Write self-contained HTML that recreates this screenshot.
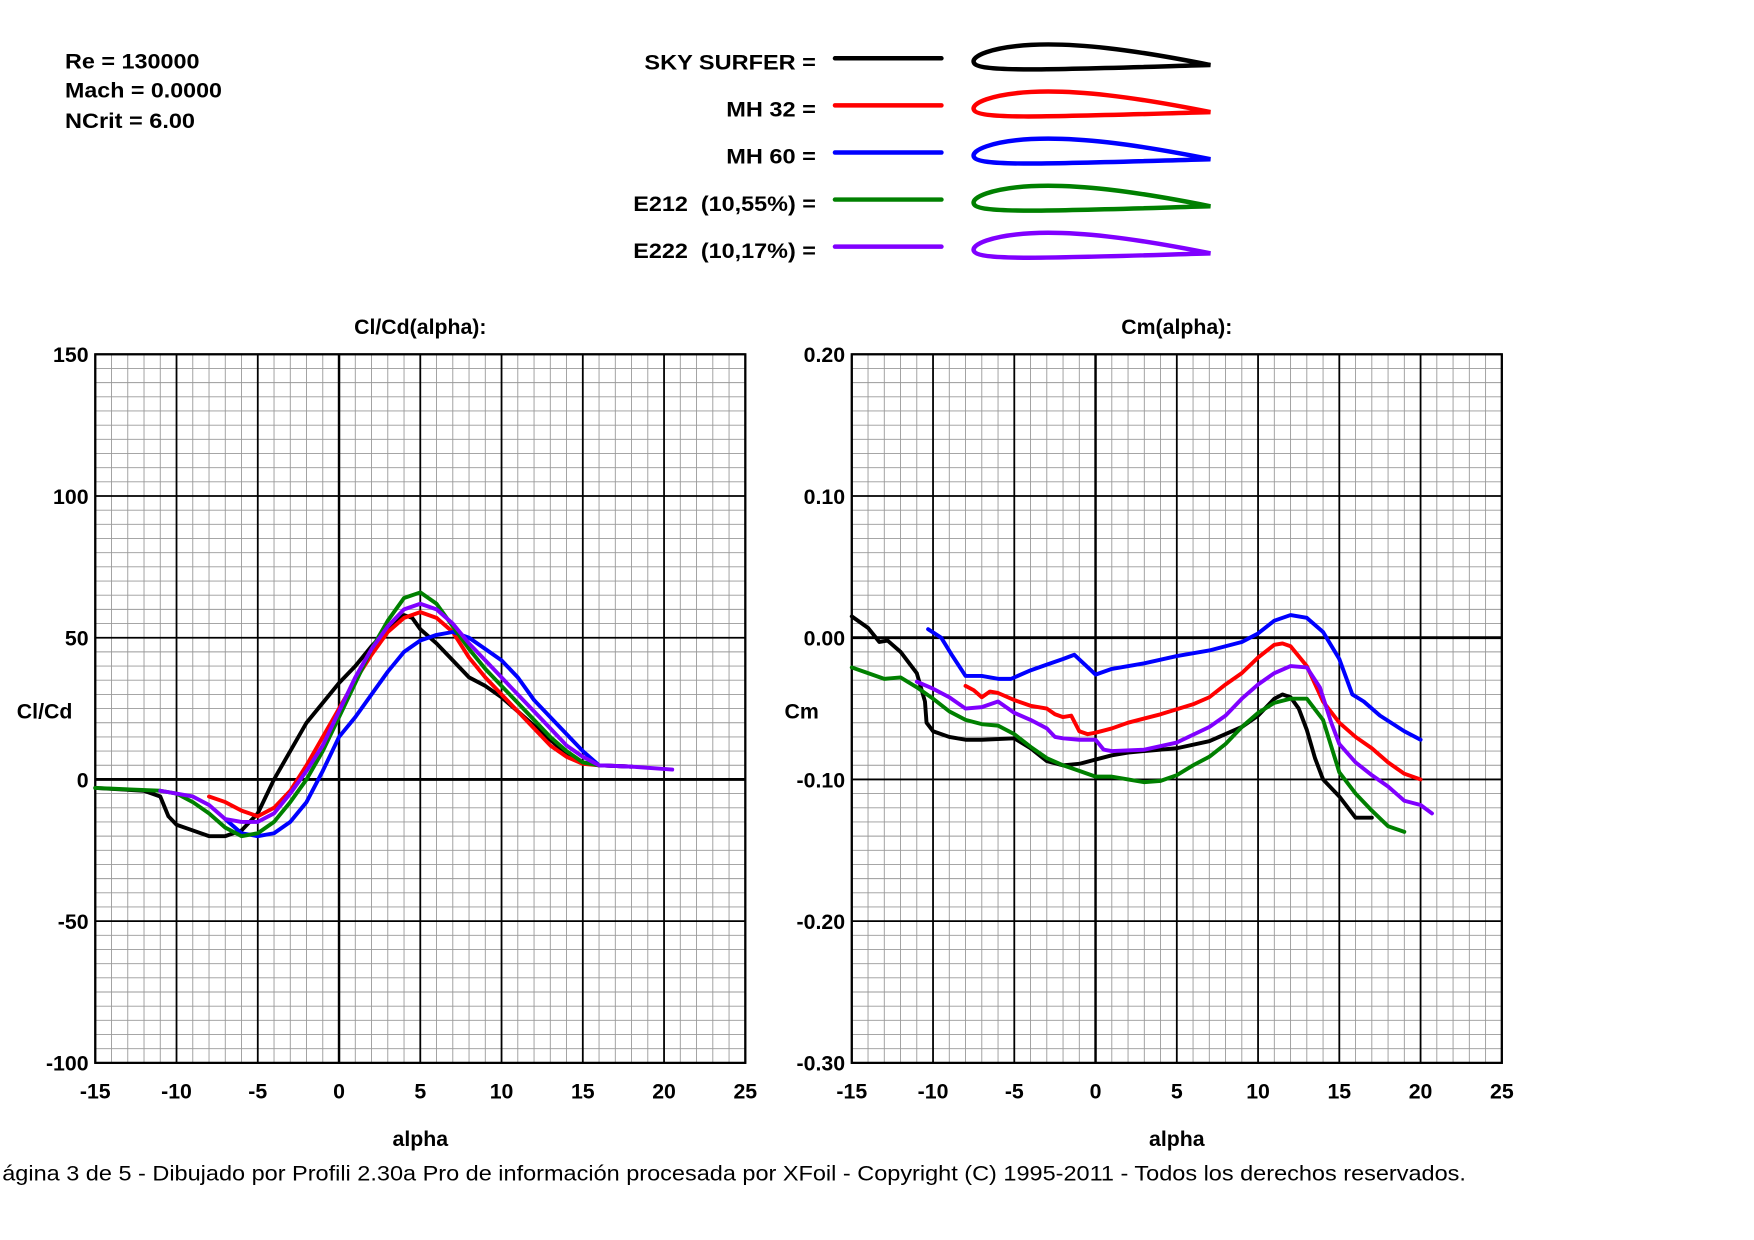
<!DOCTYPE html>
<html><head><meta charset="utf-8"><style>html,body{margin:0;padding:0;background:#fff}svg{display:block}text{font-family:"Liberation Sans",Arial,sans-serif}</style></head>
<body>
<svg id="s" width="1754" height="1240" viewBox="0 0 1565 1106" preserveAspectRatio="none" xmlns="http://www.w3.org/2000/svg">
<rect width="1565" height="1106" fill="#fff"/>
<g font-weight="bold" font-size="19" fill="#000">
<text x="58" y="61" textLength="120" lengthAdjust="spacingAndGlyphs">Re = 130000</text>
<text x="58" y="87" textLength="140" lengthAdjust="spacingAndGlyphs">Mach = 0.0000</text>
<text x="58" y="114" textLength="116" lengthAdjust="spacingAndGlyphs">NCrit = 6.00</text>
<text x="575" y="62" textLength="153" lengthAdjust="spacingAndGlyphs">SKY SURFER =</text>
<text x="648" y="104" textLength="80" lengthAdjust="spacingAndGlyphs">MH 32 =</text>
<text x="648" y="146" textLength="80" lengthAdjust="spacingAndGlyphs">MH 60 =</text>
<text x="565" y="188" textLength="163" lengthAdjust="spacingAndGlyphs" xml:space="preserve">E212  (10,55%) =</text>
<text x="565" y="230" textLength="163" lengthAdjust="spacingAndGlyphs" xml:space="preserve">E222  (10,17%) =</text>
<text x="375" y="298" text-anchor="middle">Cl/Cd(alpha):</text>
<text x="1050" y="298" text-anchor="middle">Cm(alpha):</text>
<text x="15" y="641">Cl/Cd</text>
<text x="700" y="641">Cm</text>
<text x="375" y="1022" text-anchor="middle">alpha</text>
<text x="1050" y="1022" text-anchor="middle">alpha</text>
</g>
<text x="2" y="1053" font-size="19" fill="#000" textLength="1306" lengthAdjust="spacingAndGlyphs">ágina 3 de 5 - Dibujado por Profili 2.30a Pro de información procesada por XFoil - Copyright (C) 1995-2011 - Todos los derechos reservados.</text>
<g id="g"></g>
</svg>
<script>
var NS="http://www.w3.org/2000/svg",G=document.getElementById("g");
function el(t,a,txt){var e=document.createElementNS(NS,t);for(var k in a)e.setAttribute(k,a[k]);if(txt!=null)e.textContent=txt;G.appendChild(e);return e;}
var cols=["#000","#f00","#00f","#008000","#8000ff"];
for(var i=0;i<5;i++){var y=52+42*i;el("line",{x1:745,y1:y,x2:840,y2:y,stroke:cols[i],"stroke-width":4,"stroke-linecap":"round"});
el("path",{d:"M1080,"+(y+6)+" C1010,"+(y-8)+" 960,"+(y-14)+" 920,"+(y-12)+" C885,"+(y-10)+" 866,"+(y-2)+" 869,"+(y+4)+" C873,"+(y+13)+" 940,"+(y+10)+" 1080,"+(y+6)+" Z",fill:"none",stroke:cols[i],"stroke-width":4});}
function plot(x0,ymin,ymax,ymaj,ymin2,fmt,series){
 var L=x0,R=x0+580,T=316,B=948;
 function X(a){return L+(a+15)*14.5;}
 function Y(v){return T+(ymax-v)/(ymax-ymin)*(B-T);}
 for(var a=-15;a<=25;a++){if(a%5)el("line",{x1:X(a),y1:T,x2:X(a),y2:B,stroke:"#999","stroke-width":0.8});}
 var n=Math.round((ymax-ymin)/ymin2);
 for(var j=0;j<=n;j++){if(j%10)el("line",{x1:L,y1:T+j*(B-T)/n,x2:R,y2:T+j*(B-T)/n,stroke:"#999","stroke-width":0.8});}
 for(var a=-15;a<=25;a+=5){el("line",{x1:X(a),y1:T,x2:X(a),y2:B,stroke:"#000","stroke-width":a==0?2.2:1.6});
  el("text",{x:X(a),y:980,"text-anchor":"middle","font-size":19,"font-weight":"bold"},String(a));}
 for(var j=0;j<=5;j++){var v=ymax-j*ymaj,yy=T+j*(B-T)/5;el("line",{x1:L,y1:yy,x2:R,y2:yy,stroke:"#000","stroke-width":Math.abs(v)<1e-9?2.6:1.6});
  el("text",{x:L-6,y:yy+7,"text-anchor":"end","font-size":19,"font-weight":"bold"},fmt(v));}
 el("rect",{x:L,y:T,width:580,height:632,fill:"none",stroke:"#000","stroke-width":2});
 series.forEach(function(s,i){var d="";s.forEach(function(p,k){d+=(k?"L":"M")+X(p[0]).toFixed(1)+","+Y(p[1]).toFixed(1);});
  el("path",{d:d,fill:"none",stroke:cols[i],"stroke-width":3.5,"stroke-linejoin":"round","stroke-linecap":"round"});});
}
var cl=[
[[-15,-3],[-12,-4],[-11,-6],[-10.5,-13],[-10,-16],[-9,-18],[-8,-20],[-7,-20],[-6,-18],[-5,-12],[-4,0],[-3,10],[-2,20],[-1,27],[0,34],[1,40],[2,47],[3,53],[4,58],[4.5,57],[5,53],[6,48],[7,42],[8,36],[9,33],[10,29],[11,24],[12,19],[13,14],[14,9],[15,6],[16,5],[18,4.5]],
[[-8,-6],[-7,-8],[-6,-11],[-5,-13],[-4,-10],[-3,-4],[-2,5],[-1,15],[0,25],[1,35],[2,44],[3,52],[4,57],[5,59],[6,57],[7,52],[8,43],[9,36],[10,30],[11,24],[12,18],[13,12],[14,8],[15,5.5],[16,5],[18,4.5]],
[[-7,-14],[-6,-19],[-5,-20],[-4,-19],[-3,-15],[-2,-8],[-1,3],[0,15],[1,22],[2,30],[3,38],[4,45],[5,49],[6,51],[7,52],[8,50],[9,46],[10,42],[11,36],[12,28],[13,22],[14,16],[15,10],[16,5],[18,4.5]],
[[-15,-3],[-11,-4],[-10,-5],[-9,-8],[-8,-12],[-7,-17],[-6,-20],[-5,-19],[-4,-15],[-3,-8],[-2,0],[-1,10],[0,22],[1,34],[2,46],[3,56],[4,64],[5,66],[6,62],[7,54],[8,46],[9,39],[10,33],[11,27],[12,21],[13,15],[14,10],[15,6],[16,5]],
[[-11,-4],[-9,-6],[-8,-9],[-7,-14],[-6,-15],[-5,-15],[-4,-12],[-3,-5],[-2,3],[-1,12],[0,24],[1,36],[2,46],[3,54],[4,60],[5,62],[6,60],[7,55],[8,48],[9,42],[10,36],[11,30],[12,24],[13,18],[14,12],[15,8],[16,5],[18,4.5],[20.5,3.5]]];
var cm=[
[[-15,0.015],[-14,0.007],[-13.3,-0.003],[-12.8,-0.002],[-12,-0.01],[-11,-0.025],[-10.5,-0.045],[-10.4,-0.06],[-10,-0.066],[-9,-0.07],[-8,-0.072],[-7,-0.072],[-5,-0.071],[-4,-0.078],[-3,-0.087],[-2,-0.09],[-1,-0.089],[0,-0.086],[1,-0.083],[2,-0.081],[3,-0.08],[5,-0.078],[7,-0.073],[9,-0.063],[10,-0.055],[11,-0.043],[11.5,-0.04],[12,-0.042],[12.5,-0.05],[13,-0.065],[13.5,-0.085],[14,-0.1],[15,-0.112],[16,-0.127],[17,-0.127]],
[[-8,-0.034],[-7.5,-0.037],[-7,-0.042],[-6.5,-0.038],[-6,-0.039],[-5,-0.044],[-4,-0.048],[-3,-0.05],[-2.5,-0.054],[-2,-0.056],[-1.5,-0.055],[-1,-0.066],[-0.5,-0.068],[0,-0.067],[1,-0.064],[2,-0.06],[4,-0.054],[6,-0.047],[7,-0.042],[8,-0.033],[9,-0.025],[10,-0.014],[11,-0.005],[11.5,-0.004],[12,-0.006],[13,-0.02],[14,-0.045],[15,-0.06],[16,-0.07],[17,-0.078],[18,-0.088],[19,-0.096],[20,-0.1]],
[[-10.3,0.006],[-9.5,0],[-8.8,-0.013],[-8,-0.027],[-7,-0.027],[-6,-0.029],[-5.2,-0.029],[-4,-0.023],[-3,-0.019],[-2,-0.015],[-1.3,-0.012],[0,-0.026],[1,-0.022],[3,-0.018],[5,-0.013],[7,-0.009],[9,-0.003],[10,0.003],[11,0.012],[12,0.016],[13,0.014],[14,0.004],[15,-0.015],[15.8,-0.04],[16.5,-0.045],[17.5,-0.055],[19,-0.066],[20,-0.072]],
[[-15,-0.021],[-14,-0.025],[-13,-0.029],[-12,-0.028],[-11,-0.035],[-10,-0.043],[-9,-0.052],[-8,-0.058],[-7,-0.061],[-6,-0.062],[-5,-0.068],[-4,-0.077],[-3,-0.085],[-2,-0.09],[-1,-0.094],[0,-0.098],[1,-0.098],[2,-0.1],[3,-0.102],[4,-0.101],[5,-0.097],[6,-0.09],[7,-0.084],[8,-0.075],[9,-0.063],[10,-0.053],[11,-0.046],[12,-0.043],[13,-0.043],[14,-0.058],[15,-0.095],[16,-0.11],[17,-0.122],[18,-0.133],[19,-0.137]],
[[-11,-0.031],[-10,-0.036],[-9,-0.042],[-8,-0.05],[-7,-0.049],[-6,-0.045],[-5,-0.053],[-4,-0.058],[-3,-0.064],[-2.5,-0.07],[-2,-0.071],[-1,-0.072],[0,-0.072],[0.5,-0.079],[1,-0.08],[3,-0.079],[5,-0.074],[7,-0.063],[8,-0.055],[9,-0.043],[10,-0.033],[11,-0.025],[12,-0.02],[13,-0.021],[13.8,-0.035],[14.5,-0.06],[15,-0.075],[16,-0.088],[17,-0.097],[18,-0.105],[19,-0.115],[20,-0.118],[20.7,-0.124]]];
plot(85,-100,150,50,5,function(v){return String(Math.round(v));},cl);
plot(760,-0.3,0.2,0.1,0.01,function(v){return v.toFixed(2);},cm);
</script>
</body></html>
